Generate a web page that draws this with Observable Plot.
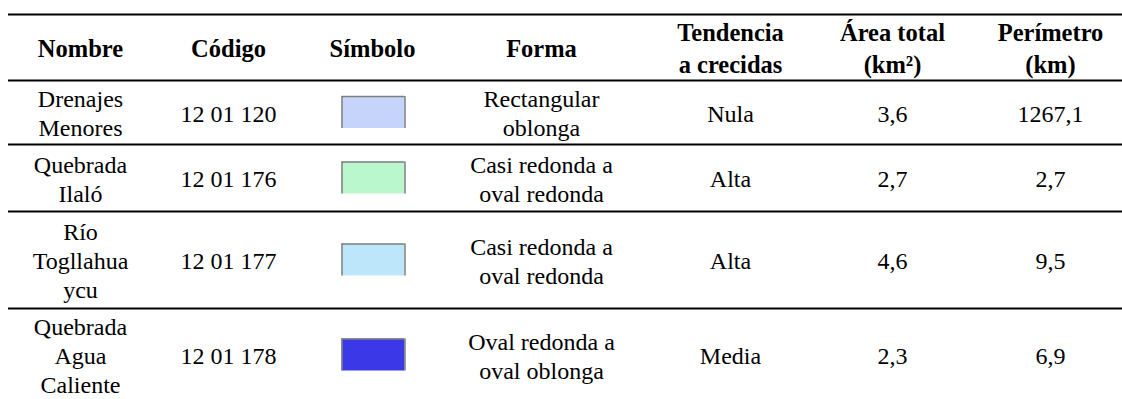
<!DOCTYPE html>
<html>
<head>
<meta charset="utf-8">
<script src="https://cdn.jsdelivr.net/npm/d3@7"></script>
<script src="https://cdn.jsdelivr.net/npm/@observablehq/plot@0.6"></script>
<style>
  html, body { margin: 0; padding: 0; background: #fff; }
  #chart svg { display: block; }
</style>
</head>
<body>
<div id="chart"></div>
<script>
// ---- Data ----
const headers = ["Nombre", "Código", "Símbolo", "Forma", "Tendencia\na crecidas", "Área total\n(km²)", "Perímetro\n(km)"];
const nombres = ["Drenajes\nMenores", "Quebrada\nIlaló", "Río\nTogllahua\nycu", "Quebrada\nAgua\nCaliente"];
const codigos = ["12 01 120", "12 01 176", "12 01 177", "12 01 178"];
const simbolos = ["#c6d3fb", "#bbf7cc", "#bde6fb", "#3b38e8"];
const formas = ["Rectangular\noblonga", "Casi redonda a\noval redonda", "Casi redonda a\noval redonda", "Oval redonda a\noval oblonga"];
const tendencias = ["Nula", "Alta", "Alta", "Media"];
const areas = [3.6, 2.7, 4.6, 2.3];
const perimetros = [1267.1, 2.7, 9.5, 6.9];

// ---- Layout (pixel space through identity-like linear scales) ----
const W = 1122, H = 399;
const colX = [80, 228, 372, 541, 730, 892, 1050];
const rowEdges = [14, 80, 144, 211, 308, 404];
const lineLeft = 8, lineRight = 1122;
const symW = 63, symH = 32;
const font = "Liberation Serif, Times New Roman, Tinos, DejaVu Serif, serif";
const fs = 24;
const hfs = 24.5;
const lh = 1.2;

const fmt = v => v.toFixed(1).replace(".", ",");

const rows = nombres.map((n, i) => ({
  i,
  cy: (rowEdges[i + 1] + rowEdges[i + 2]) / 2 - (i === 3 ? 1.5 : 0),
  cells: [n, codigos[i], null, formas[i], tendencias[i], fmt(areas[i]), fmt(perimetros[i])],
  color: simbolos[i]
}));

const headerCells = headers.map((h, j) => ({ text: h, x: colX[j], y: (rowEdges[0] + rowEdges[1]) / 2 - 1 }));
const bodyCells = rows.flatMap(r => r.cells.map((t, j) => ({ text: t, x: colX[j], y: r.cy })).filter(c => c.text !== null));

const symX1 = colX[2] - symW / 2 + 1, symX2 = colX[2] + symW / 2 + 1;

const chart = Plot.plot({
  width: W,
  height: H,
  margin: 0,
  x: { domain: [0, W], range: [0, W], axis: null },
  y: { domain: [0, H], range: [0, H], axis: null },
  style: { background: "#fff", fontFamily: font },
  marks: [
    Plot.rect(rows, {
      x1: symX1, x2: symX2,
      y1: d => d.cy - symH / 2, y2: d => d.cy + symH / 2,
      fill: d => d.color
    }),
    Plot.ruleY(rows, { y: d => d.cy - symH / 2, x1: symX1, x2: symX2, stroke: "#7f7f7f", strokeWidth: 1.5 }),
    Plot.ruleX(rows, { x: symX1, y1: d => d.cy - symH / 2, y2: d => d.cy + symH / 2, stroke: "#7f7f7f", strokeWidth: 1.5 }),
    Plot.ruleX(rows, { x: symX2, y1: d => d.cy - symH / 2, y2: d => d.cy + symH / 2, stroke: "#7f7f7f", strokeWidth: 1.5 }),
    Plot.ruleY(rowEdges.slice(0, 5), { x1: lineLeft, x2: lineRight, stroke: "#000", strokeWidth: 2.2 }),
    Plot.text(headerCells, {
      x: "x", y: "y", text: "text",
      fontSize: hfs, fontWeight: "bold", lineHeight: 1.3,
      lineAnchor: "middle", textAnchor: "middle", fill: "#000", fontFamily: font
    }),
    Plot.text(bodyCells, {
      x: "x", y: "y", text: "text",
      fontSize: fs, lineHeight: lh,
      lineAnchor: "middle", textAnchor: "middle", fill: "#000", fontFamily: font
    })
  ]
});

document.getElementById("chart").appendChild(chart);
</script>
</body>
</html>
